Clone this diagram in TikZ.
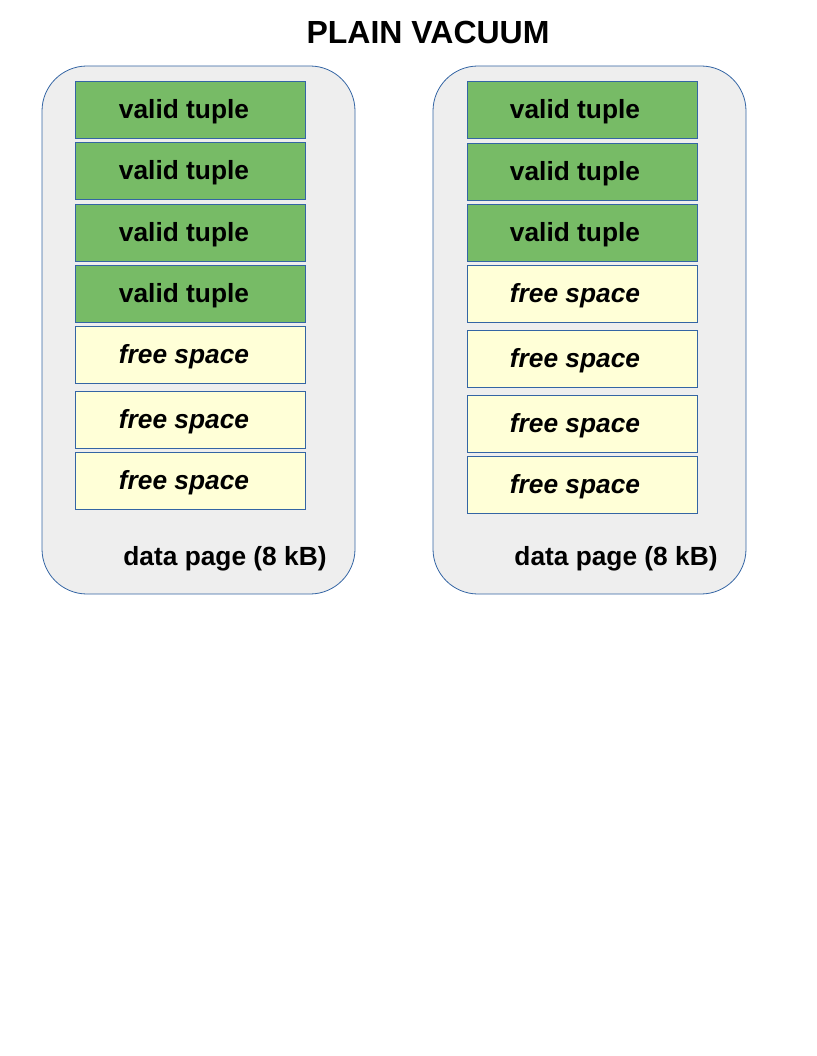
\documentclass[tikz,border=0pt]{standalone}
\usepackage{fontspec}
\setmainfont{Liberation Sans}
\definecolor{tupgreen}{HTML}{77BB66}
\definecolor{freey}{HTML}{FFFFD7}
\definecolor{pagegray}{HTML}{EEEEEE}
\definecolor{edgeblue}{HTML}{3465A4}
\begin{document}
\begin{tikzpicture}[x=1pt,y=-1pt,
  pagebox/.style={draw=edgeblue,fill=pagegray,rounded corners=45pt,line width=0.8pt},
  tuplebox/.style={draw=edgeblue,fill=tupgreen,line width=0.8pt},
  freebox/.style={draw=edgeblue,fill=freey,line width=0.8pt},
  lbl/.style={font=\fontsize{26.3}{30}\selectfont\bfseries,inner sep=0pt,anchor=center},
  ilbl/.style={font=\fontsize{26.3}{30}\selectfont\bfseries\itshape,inner sep=0pt,anchor=center}]
\useasboundingbox (0,0) rectangle (816,1056);
\node[font=\fontsize{32}{36}\selectfont\bfseries,inner sep=0pt] (title) at (428,32) {PLAIN VACUUM};
% left page
\draw[pagebox] (42,66) rectangle (355,594);
\foreach \t/\b/\n in {81/138/a1,142/199/a2,204/261/a3,265/322/a4}{
  \draw[tuplebox] (75,\t) rectangle (305,\b);
  \node[lbl] (\n) at (184,{(\t+\b)/2+2}) {valid tuple};
}
\foreach \t/\b/\n in {326/383/a5,391/448/a6,452/509/a7}{
  \draw[freebox] (75,\t) rectangle (305,\b);
  \node[ilbl] (\n) at (184,{(\t+\b)/2+2}) {free space};
}
\node[lbl] (lpage) at (225,559) {data page (8 kB)};
% right page
\draw[pagebox] (433,66) rectangle (746,594);
\foreach \t/\b/\n in {81/138/b1,143/200/b2,204/261/b3}{
  \draw[tuplebox] (467,\t) rectangle (697,\b);
  \node[lbl] (\n) at (575,{(\t+\b)/2+2}) {valid tuple};
}
\foreach \t/\b/\n in {265/322/b4,330/387/b5,395/452/b6,456/513/b7}{
  \draw[freebox] (467,\t) rectangle (697,\b);
  \node[ilbl] (\n) at (575,{(\t+\b)/2+2}) {free space};
}
\node[lbl] (rpage) at (616,559) {data page (8 kB)};
\end{tikzpicture}
\end{document}
